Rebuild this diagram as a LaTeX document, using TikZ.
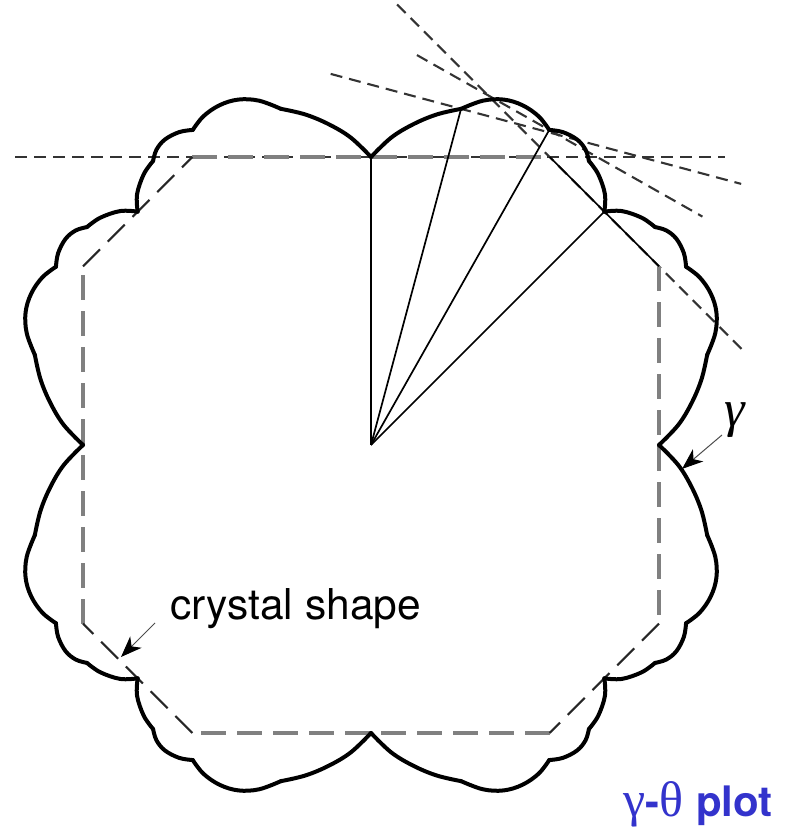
\documentclass[tikz,border=0pt]{standalone}
\usepackage{fontspec}
\newfontfamily\heros{TeX Gyre Heros}
\newfontfamily\lserif{Liberation Serif}
\usetikzlibrary{arrows.meta,calc}
\definecolor{plotblue}{RGB}{51,51,204}
\tikzset{
  gam/.style={line width=4pt,line join=round,line cap=round},
  rad/.style={line width=1.7pt},
  wulff/.style={line width=2.1pt,black!80,dash pattern=on 12pt off 7pt},
  octgray/.style={line width=3.5pt,black!50,dash pattern=on 25pt off 11pt},
  octblack/.style={line width=2.1pt,black!85,dash pattern=on 24pt off 11pt},
  octsolid/.style={line width=1.7pt},
  labarrow/.style={line width=1pt,black!70,-{Stealth[length=21pt,width=16pt,inset=6pt,black]}},
}
% one 45-degree segment of the gamma plot: #1 axis angle, #2 direction (+1/-1)
\newcommand\gseg[2]{%
  \draw[gam] plot[smooth,tension=0.6] coordinates {({#1+#2*0}:288) ({#1+#2*3.75}:308) ({#1+#2*7.5}:323.5) ({#1+#2*11.25}:337) ({#1+#2*15}:348)};
  \draw[gam] plot[smooth,tension=0.6] coordinates {({#1+#2*15}:348) ({#1+#2*18}:362) ({#1+#2*21}:370) ({#1+#2*24}:372) ({#1+#2*27}:369) ({#1+#2*29.5}:362)};
  \draw[gam] plot[smooth,tension=0.6] coordinates {({#1+#2*29.5}:362) ({#1+#2*31.5}:367) ({#1+#2*34}:368.5) ({#1+#2*36}:365) ({#1+#2*37.5}:358)};
  \draw[gam] plot[smooth,tension=0.6] coordinates {({#1+#2*37.5}:358) ({#1+#2*40}:353.5) ({#1+#2*43}:343) ({#1+#2*45}:330)};
}
\begin{document}
\begin{tikzpicture}[x=1pt,y=1pt]
\useasboundingbox (0,0) rectangle (791,830);
\coordinate (O) at (371,385);

% crystal shape (octagon)
\coordinate (TL) at (192.3,673);
\coordinate (TR) at (549.7,673);
\coordinate (RT) at (659,563.7);
\coordinate (RB) at (659,206.3);
\coordinate (BR) at (549.7,97);
\coordinate (BL) at (192.3,97);
\coordinate (LB) at (83,206.3);
\coordinate (LT) at (83,563.7);

% Wulff planes
\coordinate (P90) at ($(O)+(90:288)$);
\coordinate (P75) at ($(O)+(75:348)$);
\coordinate (P60) at ($(O)+(60.5:362)$);
\coordinate (P45) at ($(O)+(45:330)$);
\coordinate (H1) at (15,673);
\coordinate (H2) at (725,673);
\coordinate (A1) at ($(P75)+(165:135)$);
\coordinate (A2) at ($(P75)+(-15:290)$);
\coordinate (B1) at ($(P60)+(150.5:152)$);
\coordinate (B2) at ($(P60)+(-29.5:176)$);
\coordinate (C1) at ($(P45)+(135:293)$);
\coordinate (C2) at ($(P45)+(-45:200)$);
\draw[wulff] (H1) -- (H2);
\draw[wulff] (A1) -- (A2);
\draw[wulff] (B1) -- (B2);
\draw[wulff] (C1) -- (C2);

\draw[octgray] (TL) -- (TR);
\draw[octgray] (RT) -- (RB);
\draw[octgray] (BR) -- (BL);
\draw[octgray] (LB) -- (LT);
\draw[octsolid] (TR) -- (RT);
\draw[octblack] (RB) -- (BR);
\draw[octblack] (BL) -- (LB);
\draw[octblack] (LT) -- (TL);

% radial lines
\draw[rad] (O) -- (P90);
\draw[rad] (O) -- (P75);
\draw[rad] (O) -- (P60);
\draw[rad] (O) -- (P45);

% gamma plot
\begin{scope}[shift={(O)}]
\foreach \a in {0,90,180,270}{
  \gseg{\a}{1}
  \gseg{\a}{-1}
}
\end{scope}

% labels
\node[anchor=base west,inner sep=0pt,font=\heros\fontsize{42.5}{50}\selectfont] (cs) at (170,210) {crystal shape};
\coordinate (cs1) at (155,207);
\coordinate (cs2) at (121,173);
\draw[labarrow] (cs1) -- (cs2);

\node[inner sep=0pt,font=\lserif\itshape\fontsize{52}{58}\selectfont] (gl) at (735,410) {γ};
\coordinate (g1) at (722,395);
\coordinate (g2) at ($(O)+(-4.4:312)$);
\draw[labarrow] (g1) -- (g2);

\node[anchor=base east,inner sep=0pt,text=plotblue,font=\fontsize{42}{50}\selectfont] (title) at (773,13)
  {{\lserif\fontsize{50}{56}\selectfont γ}{\heros\bfseries -}{\lserif\fontsize{50}{56}\selectfont θ} {\heros\bfseries plot}};
\end{tikzpicture}
\end{document}
